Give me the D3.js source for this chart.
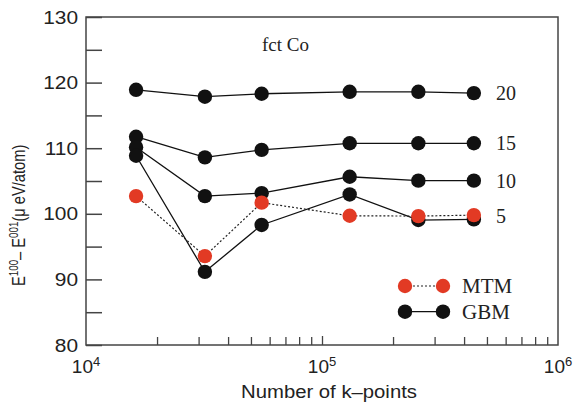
<!DOCTYPE html>
<html>
<head>
<meta charset="utf-8">
<script src="https://cdn.jsdelivr.net/npm/d3@7"></script>
<style>
  html, body { margin: 0; padding: 0; background: #fff; }
  svg { display: block; }
</style>
</head>
<body>
<svg id="chart" width="576" height="404"></svg>
<script>
// k-point meshes (x) and magnetic anisotropy energies (µeV/atom)
const kPoints = [16300, 31900, 55500, 131000, 256000, 440000];

// GBM results, one series per broadening setting
const gbmLabels = ["20", "15", "10", "5"];
const gbm20 = [118.9, 117.85, 118.3, 118.6, 118.6, 118.4];
const gbm15 = [111.75, 108.6, 109.75, 110.75, 110.75, 110.75];
const gbm10 = [110.15, 102.7, 103.15, 105.65, 105.05, 105.05];
const gbm5  = [108.85, 91.15, 98.3, 102.95, 99.05, 99.15];

// MTM results
const mtm = [102.7, 93.55, 101.7, 99.7, 99.65, 99.8];

const yTicks = [80, 85, 90, 95, 100, 105, 110, 115, 120, 125, 130];
const xMajor = [1e4, 1e5, 1e6];
const xMinor = [2e4, 3e4, 4e4, 5e4, 6e4, 7e4, 8e4, 9e4,
                2e5, 3e5, 4e5, 5e5, 6e5, 7e5, 8e5, 9e5];
const legendNames = ["MTM", "GBM"];

const gbmSeries = [gbm20, gbm15, gbm10, gbm5];

const svg = d3.select("#chart");
const L = 86, R = 558, T = 17, B = 345;
const axisColor = "#444";
const red = "#e23a24";
const black = "#111";
const serif = "'Liberation Serif', 'Times New Roman', serif";
const sans = "'Liberation Sans', Arial, Helvetica, sans-serif";

const x = d3.scaleLog().domain([1e4, 1e6]).range([L, R]);
const y = d3.scaleLinear().domain([80, 130]).range([B, T]);

// frame
svg.append("rect")
  .attr("x", L).attr("y", T).attr("width", R - L).attr("height", B - T)
  .attr("fill", "none").attr("stroke", axisColor).attr("stroke-width", 1.5);

// y axis, inward ticks
const yAxis = d3.axisLeft(y)
  .tickValues(yTicks)
  .tickSize(-16)
  .tickPadding(7.2)
  .tickFormat(d => d % 10 === 0 ? d : "");
const gy = svg.append("g").attr("transform", `translate(${L},0)`).call(yAxis);
gy.select(".domain").remove();
gy.selectAll(".tick line").attr("stroke", axisColor).attr("stroke-width", 1.5);
gy.selectAll(".tick text")
  .attr("font-family", sans).attr("font-size", 19).attr("fill", "#222")
  .attr("transform", "scale(1.1,1)");

// x axis: minor and major ticks inward
const gxMinor = svg.append("g").attr("transform", `translate(0,${B})`)
  .call(d3.axisBottom(x).tickValues(xMinor).tickSize(-8).tickFormat(""));
const gxMajor = svg.append("g").attr("transform", `translate(0,${B})`)
  .call(d3.axisBottom(x).tickValues([1e5]).tickSize(-9).tickFormat(""));
[gxMinor, gxMajor].forEach(g => {
  g.select(".domain").remove();
  g.selectAll(".tick line").attr("stroke", axisColor).attr("stroke-width", 1.3);
});

// decade labels 10^n
const xl = svg.append("g");
xMajor.forEach(v => {
  const t = xl.append("text")
    .attr("x", x(v)).attr("y", 373)
    .attr("text-anchor", "middle")
    .attr("font-family", sans).attr("font-size", 19).attr("fill", "#222");
  t.append("tspan").text("10");
  t.append("tspan").attr("font-size", 13).attr("dy", -7).text(Math.round(Math.log10(v)));
});

// axis titles
svg.append("text")
  .attr("transform", "translate(329,398) scale(1.16,1)")
  .attr("text-anchor", "middle")
  .attr("font-family", sans).attr("font-size", 17.5).attr("fill", "#222")
  .text("Number of k–points");

const yt = svg.append("text")
  .attr("transform", "translate(25,286) rotate(-90) scale(0.815,1)")
  .attr("text-anchor", "start")
  .attr("font-family", sans).attr("font-size", 18).attr("fill", "#222");
yt.append("tspan").text("E");
yt.append("tspan").attr("font-size", 12).attr("dy", -7).text("100");
yt.append("tspan").attr("dy", 7).text("– E");
yt.append("tspan").attr("font-size", 12).attr("dy", -7).text("001");
yt.append("tspan").attr("dy", 7).text("(μ eV/atom)");

// annotation
svg.append("text")
  .attr("x", 262).attr("y", 50.5)
  .attr("font-family", serif).attr("font-size", 19).attr("fill", "#222")
  .text("fct Co");

const line = d3.line().x(d => x(d[0])).y(d => y(d[1]));
const R_DOT = 7.2;

// GBM series: solid lines with black markers
gbmSeries.forEach((vals, i) => {
  const pts = kPoints.map((k, j) => [k, vals[j]]);
  svg.append("path").datum(pts)
    .attr("d", line).attr("fill", "none")
    .attr("stroke", black).attr("stroke-width", 1.3);
  svg.append("g").selectAll("circle").data(pts).join("circle")
    .attr("cx", d => x(d[0])).attr("cy", d => y(d[1]))
    .attr("r", R_DOT).attr("fill", black);
  svg.append("text")
    .attr("x", 496).attr("y", y(vals[vals.length - 1]) + (i === 3 ? 4 : 7))
    .attr("font-family", serif).attr("font-size", 20).attr("fill", "#222")
    .text(gbmLabels[i]);
});

// MTM series: dotted line with red markers
const mtmPts = kPoints.map((k, j) => [k, mtm[j]]);
svg.append("path").datum(mtmPts)
  .attr("d", line).attr("fill", "none")
  .attr("stroke", "#222").attr("stroke-width", 1.2)
  .attr("stroke-dasharray", "2,2");
svg.append("g").selectAll("circle").data(mtmPts).join("circle")
  .attr("cx", d => x(d[0])).attr("cy", d => y(d[1]))
  .attr("r", R_DOT).attr("fill", red);

// legend
const legend = svg.append("g");
legendNames.forEach((name, i) => {
  const cy = 286 + i * 25.7;
  const isMtm = name === "MTM";
  legend.append("line")
    .attr("x1", 405).attr("x2", 443).attr("y1", cy).attr("y2", cy)
    .attr("stroke", isMtm ? "#222" : black)
    .attr("stroke-width", isMtm ? 1.2 : 1.3)
    .attr("stroke-dasharray", isMtm ? "2,2" : null);
  [405, 443].forEach(cx => legend.append("circle")
    .attr("cx", cx).attr("cy", cy).attr("r", R_DOT)
    .attr("fill", isMtm ? red : black));
  legend.append("text")
    .attr("x", 462).attr("y", cy + 7)
    .attr("font-family", serif).attr("font-size", 21).attr("fill", "#222")
    .text(name);
});
</script>
</body>
</html>
